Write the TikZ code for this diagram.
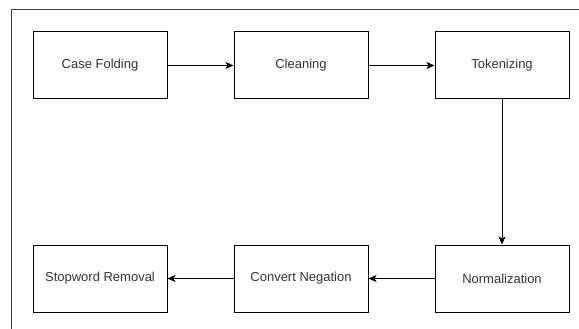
\documentclass[tikz,border=0pt]{standalone}
\usepackage{fontspec}
\setmainfont{Liberation Sans}
\usetikzlibrary{arrows.meta,positioning}

\begin{document}
\begin{tikzpicture}[x=1pt,y=-1pt,
    stage/.style={draw, line width=1pt, minimum width=134pt, minimum height=67pt,
      inner sep=0pt, text=black!80, font=\fontsize{13}{15}\selectfont},
    flow/.style={-{Stealth[length=8pt,width=7pt,inset=2pt]}, line width=1pt}]

\useasboundingbox (0,0) rectangle (579,329);

% outer frame
\draw[line width=1pt, black!75] (579,10) -- (11,10) -- (11,329);

\node[stage] (fold) at (100,65.5) {Case Folding};
\node[stage, right=66pt of fold] (clean) {Cleaning};
\node[stage, right=66pt of clean] (token) {Tokenizing};

\node[stage, below=145pt of token] (norm) {Normalization};
\node[stage, left=66pt of norm] (negate) {Convert Negation};
\node[stage, left=66pt of negate] (stopword) {Stopword Removal};

\draw[flow] (fold) -- (clean);
\draw[flow] (clean) -- (token);
\draw[flow] (token) -- (norm);
\draw[flow] (norm) -- (negate);
\draw[flow] (negate) -- (stopword);

\end{tikzpicture}
\end{document}
